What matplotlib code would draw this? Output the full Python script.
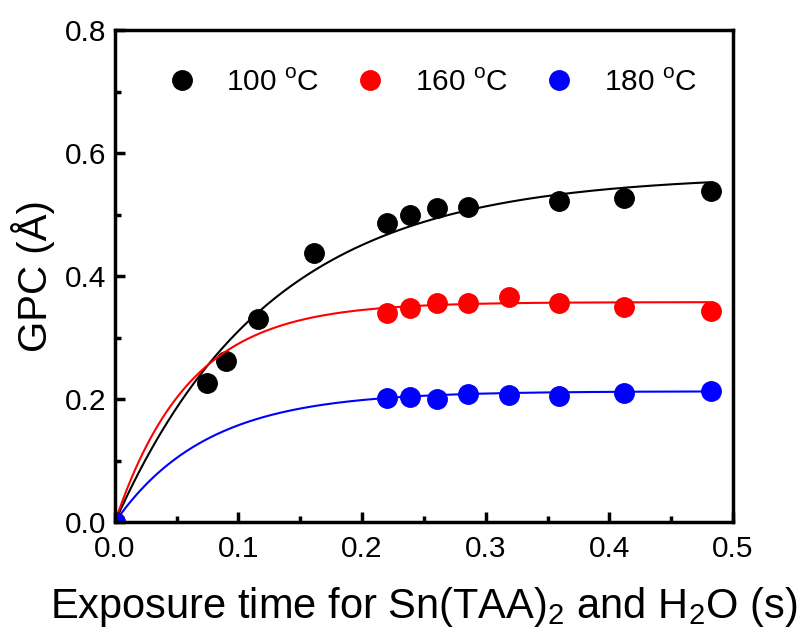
import numpy as np
import matplotlib
matplotlib.use("Agg")
import matplotlib.pyplot as plt

plt.rcParams['font.family'] = ['Liberation Sans', 'DejaVu Sans']
plt.rcParams['mathtext.fontset'] = 'custom'
plt.rcParams['mathtext.rm'] = 'Liberation Sans'

# measured data (exposure time in s, GPC in Angstrom)
t_100 = [0.0, 0.0744, 0.0898, 0.1157, 0.161, 0.220, 0.2387, 0.2605, 0.2856, 0.359, 0.412, 0.482]
gpc_100 = [0.0, 0.226, 0.263, 0.331, 0.438, 0.487, 0.500, 0.511, 0.513, 0.522, 0.527, 0.538]

t_160 = [0.0, 0.220, 0.2387, 0.2605, 0.2856, 0.3186, 0.359, 0.412, 0.482]
gpc_160 = [0.0, 0.340, 0.349, 0.357, 0.356, 0.366, 0.357, 0.350, 0.344]

t_180 = [0.0, 0.220, 0.2387, 0.2605, 0.2856, 0.3186, 0.359, 0.412, 0.482]
gpc_180 = [0.0, 0.202, 0.203, 0.200, 0.209, 0.207, 0.206, 0.211, 0.214]

# saturation fits: GPC = A * (1 - exp(-t / tau))
fit_A = [0.565, 0.358, 0.213]
fit_tau = [0.125, 0.060, 0.074]

labels = ["100 $^{\\rm o}$C", "160 $^{\\rm o}$C", "180 $^{\\rm o}$C"]
colors = ["black", "red", "blue"]

fig = plt.figure(figsize=(8.09, 6.33), dpi=100)
ax = fig.add_axes([0.142, 0.175, 0.764, 0.777])

tt = np.linspace(0, 0.48, 300)
series = [(t_100, gpc_100), (t_160, gpc_160), (t_180, gpc_180)]
for (x, y), A, tau, c, lab in zip(series, fit_A, fit_tau, colors, labels):
    ax.plot(tt, A * (1 - np.exp(-tt / tau)), color=c, lw=1.5)
    ax.plot(x, y, 'o', color=c, ms=14, label=lab, clip_on=True)

ax.set_xlim(0, 0.5)
ax.set_ylim(0, 0.8)
ax.set_xticks(np.arange(0, 0.51, 0.1))
ax.set_yticks(np.arange(0, 0.81, 0.2))
ax.set_xticks(np.arange(0.05, 0.5, 0.1), minor=True)
ax.set_yticks(np.arange(0.1, 0.8, 0.2), minor=True)
ax.xaxis.set_major_formatter(matplotlib.ticker.FormatStrFormatter('%.1f'))
ax.yaxis.set_major_formatter(matplotlib.ticker.FormatStrFormatter('%.1f'))
ax.tick_params(which='major', direction='in', length=7, width=2.5, labelsize=21.5)
ax.tick_params(which='minor', direction='in', length=4, width=2.5)
ax.tick_params(axis='x', which='major', pad=9)
ax.tick_params(axis='y', which='major', pad=6)
for s in ax.spines.values():
    s.set_linewidth(2.5)

ax.set_xlabel("Exposure time for Sn(TAA)$_2$ and H$_2$O (s)", fontsize=30, labelpad=16)
ax.set_ylabel("GPC (Å)", fontsize=29, labelpad=7)

ax.legend(loc='center', ncol=3, frameon=False, fontsize=21.5,
          handlelength=1.0, handletextpad=1.0, columnspacing=1.2,
          bbox_to_anchor=(0.513, 0.894))

fig.savefig("out.png", dpi=100)
